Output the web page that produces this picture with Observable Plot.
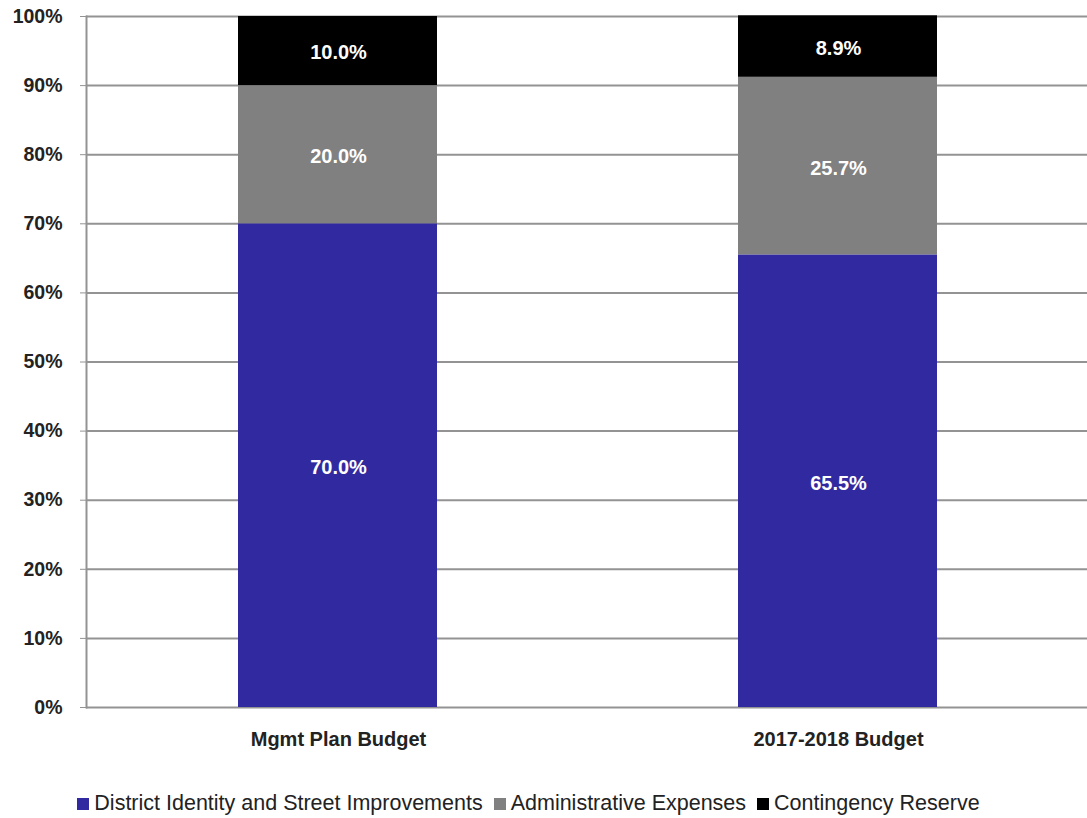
<!DOCTYPE html>
<html>
<head>
<meta charset="utf-8">
<script src="https://cdn.jsdelivr.net/npm/d3@7"></script>
<script src="https://cdn.jsdelivr.net/npm/@observablehq/plot@0.6"></script>
<style>
  body { margin: 0; background: #fff; font-family: "Liberation Sans", Arial, sans-serif; }
  #legend { display: flex; justify-content: center; gap: 11px; margin-top: 21px; font-size: 21.5px; color: #222; margin-left: -30px; }
  #legend span.item { display: inline-flex; align-items: center; }
  #legend span.sw { display: inline-block; width: 12px; height: 12px; margin-right: 5px; }
</style>
</head>
<body>
<div id="chart"></div>
<div id="legend"></div>
<script>
const categories = ["Mgmt Plan Budget", "2017-2018 Budget"];
const series = ["District Identity and Street Improvements", "Administrative Expenses", "Contingency Reserve"];
const colors = ["#3129a0", "#808080", "#000000"];
const values = {
  "District Identity and Street Improvements": [0.700, 0.655],
  "Administrative Expenses": [0.200, 0.257],
  "Contingency Reserve": [0.100, 0.089]
};
const yTicks = [0, 0.1, 0.2, 0.3, 0.4, 0.5, 0.6, 0.7, 0.8, 0.9, 1.0];

const data = [];
series.forEach(s => categories.forEach((c, i) => data.push({category: c, series: s, value: values[s][i]})));

const fmtPct1 = d3.format(".1%");
const chart = Plot.plot({
  width: 1087,
  height: 770,
  marginLeft: 86,
  marginRight: 0,
  marginTop: 16,
  marginBottom: 63,
  style: { fontFamily: "'Liberation Sans', Arial, sans-serif", background: "#fff", color: "#222" },
  x: { domain: categories, padding: 0, label: null },
  y: { domain: [0, 1], label: null },
  color: { domain: series, range: colors },
  marks: [
    Plot.ruleY(yTicks, { stroke: "#939393", strokeWidth: 2 }),
    Plot.frame({ anchor: "left", stroke: "#939393", strokeWidth: 2 }),
    Plot.barY(data, Plot.stackY({ x: "category", y: "value", fill: "series", order: series, insetLeft: 151, insetRight: 150 })),
    Plot.text(data, Plot.stackY({ x: "category", y: "value", z: "series", order: series, dx: 1, dy: 2, text: d => fmtPct1(d.value), fill: "white", fontWeight: "bold", fontSize: 20 })),
    Plot.axisY({ ticks: yTicks, tickFormat: d3.format(".0%"), tickSize: 6, tickPadding: 18, fontSize: 19.5, fontWeight: "bold", stroke: "#939393" }),
    Plot.axisX({ tickSize: 0, tickPadding: 24, fontSize: 20, fontWeight: "bold", dx: 1 })
  ]
});
document.getElementById("chart").appendChild(chart);

const legend = document.getElementById("legend");
series.forEach((s, i) => {
  const item = document.createElement("span");
  item.className = "item";
  const sw = document.createElement("span");
  sw.className = "sw";
  sw.style.background = colors[i];
  item.appendChild(sw);
  item.appendChild(document.createTextNode(s));
  legend.appendChild(item);
});
</script>
</body>
</html>
